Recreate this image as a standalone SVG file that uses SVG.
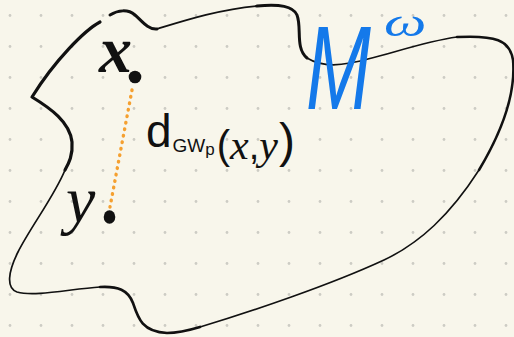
<svg xmlns="http://www.w3.org/2000/svg" width="514" height="337" viewBox="0 0 514 337">
<style>
.ol{fill:none;stroke:#111;stroke-linecap:round;stroke-linejoin:round}
.hand{font-family:"Liberation Serif",serif;font-style:italic;fill:#111}
.sans{font-family:"Liberation Sans",sans-serif;fill:#111}
.blue{font-style:italic;fill:#1479ea}
</style>
<defs>
<pattern id="dots" x="0" y="0" width="31" height="31" patternUnits="userSpaceOnUse">
<circle cx="10" cy="15.5" r="1.4" fill="#cdccc4"/>
</pattern>
</defs>
<rect width="514" height="337" fill="#f8f6eb"/>
<rect width="514" height="337" fill="url(#dots)"/>
<g id="manifold">
<path class="ol" stroke-width="3.2" d="M100,22 C85,30 55,60 32,97 C50,108 70,122 72,142 C73,155 69,163 65,170"/>
<path class="ol" stroke-width="1.7" d="M65,170 C55,195 30,228 18,252 C8,272 6,288 17,292 C35,297 70,289 100,287"/>
<path class="ol" stroke-width="2.7" d="M100,287 C118,286 128,290 133,303 C138,318 142,332 167,333 C180,333 190,330 200,327"/>
<path class="ol" stroke-width="1.6" d="M200,327 C250,312 330,285 384,260 C420,243 450,215 479,170"/>
<path class="ol" stroke-width="2.5" d="M479,170 C500,135 516,95 513,60 C510,40 495,35 457,37"/>
<path class="ol" stroke-width="1.7" d="M457,37 C420,42 380,58 350,63 C335,66 320,66 307,58"/>
<path class="ol" stroke-width="3" d="M307,58 C295,48 302,28 297,15 C293,6 280,4 257,6"/>
<path class="ol" stroke-width="1.8" d="M257,6 C220,9 180,22 157,29"/>
<path class="ol" stroke-width="3" d="M157,29 C148,30 141,20 135,15 C128,9 118,10 110,15"/>
</g>
<g id="manifold-label">
<text class="blue" font-family="Liberation Sans, sans-serif" font-size="118" transform="translate(306,109) scale(0.66,1)">M</text>
<text class="blue" font-family="Liberation Serif, serif" font-size="40" transform="translate(384,36) scale(1.5,1)">ω</text>
</g>
<g id="connectors">
<line x1="132" y1="90" x2="110" y2="207" stroke="#f5a030" stroke-width="3.4" stroke-linecap="round" stroke-dasharray="0.6 6"/>
</g>
<g id="point-x">
<circle cx="135" cy="77" r="6.3" fill="#111"/>
<text class="hand" font-weight="bold" font-size="66" x="99" y="72">x</text>
</g>
<g id="point-y">
<ellipse cx="109.5" cy="217" rx="5.8" ry="6.8" fill="#111"/>
<text class="hand" font-size="66" x="66" y="222">y</text>
</g>
<g id="distance-label">
<text class="sans" x="146" y="147" font-size="46">d<tspan font-size="19" dy="5" dx="1">GW</tspan><tspan font-size="17" dy="3">p</tspan><tspan font-size="40" dy="4" dx="2">(</tspan><tspan font-size="42" font-style="italic" font-family="Liberation Serif, serif">x</tspan><tspan font-size="38">,</tspan><tspan font-size="42" font-style="italic" font-family="Liberation Serif, serif">y</tspan><tspan font-size="48" dy="-2" dx="1">)</tspan></text>
</g>
</svg>
